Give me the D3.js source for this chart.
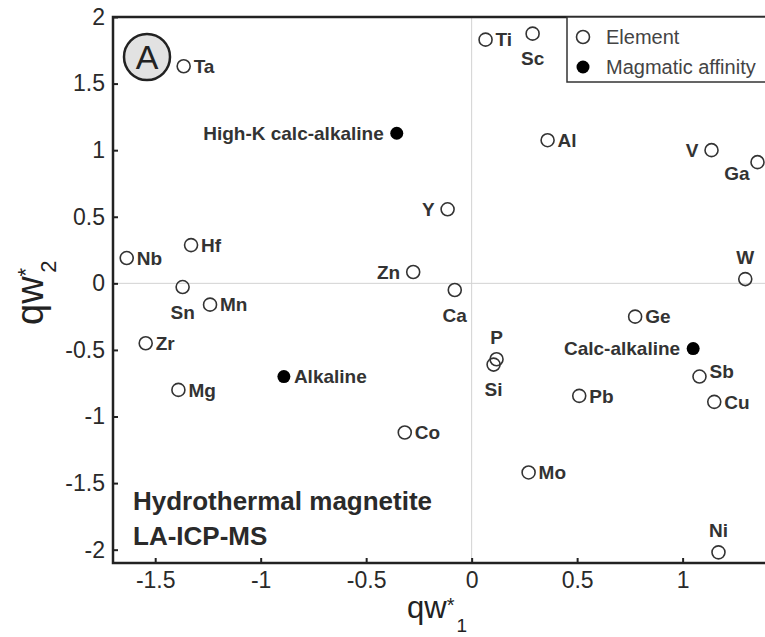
<!DOCTYPE html>
<html>
<head>
<meta charset="utf-8">
<script src="https://cdn.jsdelivr.net/npm/d3@7"></script>
<style>
  html, body { margin: 0; padding: 0; background: #fff; }
  svg { display: block; font-family: "Liberation Sans", Arial, sans-serif; }
</style>
</head>
<body>
<svg id="chart" width="765" height="637"></svg>
<script>
// Element loadings on the first two weighted components
const elements = ["Ta", "Ti", "Sc", "Al", "V", "Ga", "Y", "Hf", "Nb", "Zn", "W", "Sn", "Ca",
                  "Mn", "Ge", "Zr", "P", "Si", "Sb", "Mg", "Pb", "Cu", "Co", "Mo", "Ni"];
const elementQw1 = [-1.365, 0.066, 0.289, 0.36, 1.137, 1.355, -0.114, -1.33, -1.635, -0.277, 1.297, -1.37, -0.08,
                    -1.24, 0.775, -1.545, 0.118, 0.104, 1.08, -1.39, 0.51, 1.15, -0.317, 0.27, 1.17];
const elementQw2 = [1.63, 1.83, 1.875, 1.075, 1.0, 0.91, 0.556, 0.287, 0.19, 0.085, 0.032, -0.028, -0.05,
                    -0.16, -0.25, -0.45, -0.57, -0.61, -0.70, -0.80, -0.845, -0.89, -1.12, -1.42, -2.02];

// Magmatic affinity groups
const affinities = ["High-K calc-alkaline", "Calc-alkaline", "Alkaline"];
const affinityQw1 = [-0.355, 1.05, -0.89];
const affinityQw2 = [1.127, -0.49, -0.70];

// Axis ticks
const xTicks = [-1.5, -1, -0.5, 0, 0.5, 1];
const yTicks = [-2, -1.5, -1, -0.5, 0, 0.5, 1, 1.5, 2];

const legendLabels = ["Element", "Magmatic affinity"];
const panelLetter = "A";
const noteLines = ["Hydrothermal magnetite", "LA-ICP-MS"];

// where each label sits relative to its marker
const labelSide = {
  Ta: "r", Ti: "r", Sc: "b", Al: "r", V: "l", Ga: "bl", Y: "l", Hf: "r", Nb: "r", Zn: "l",
  W: "t", Sn: "b", Ca: "b", Mn: "r", Ge: "r", Zr: "r", P: "t", Si: "b", Sb: "ru", Mg: "r",
  Pb: "r", Cu: "r", Co: "r", Mo: "r", Ni: "t",
  "High-K calc-alkaline": "l", "Calc-alkaline": "l", "Alkaline": "r"
};

const svg = d3.select("#chart");
const plot = { left: 113, right: 767, top: 17, bottom: 563 };

const x = d3.scaleLinear().domain([-1.7, 1.4]).range([plot.left, plot.right]);
const y = d3.scaleLinear().domain([-2.1, 2]).range([plot.bottom, plot.top]);

const ink = "#222";

// zero reference lines
svg.append("line")
  .attr("x1", x(0)).attr("x2", x(0)).attr("y1", plot.top).attr("y2", plot.bottom)
  .attr("stroke", "#d2d2d2").attr("stroke-width", 1);
svg.append("line")
  .attr("x1", plot.left).attr("x2", plot.right).attr("y1", y(0)).attr("y2", y(0))
  .attr("stroke", "#d2d2d2").attr("stroke-width", 1);

// axes with inward ticks
const fmt = d => String(d);
const xAxis = svg.append("g")
  .attr("transform", `translate(0,${plot.bottom})`)
  .call(d3.axisBottom(x).tickValues(xTicks).tickFormat(fmt).tickSizeInner(-5).tickSizeOuter(0).tickPadding(9));
const yAxis = svg.append("g")
  .attr("transform", `translate(${plot.left},0)`)
  .call(d3.axisLeft(y).tickValues(yTicks).tickFormat(fmt).tickSizeInner(-5).tickSizeOuter(0).tickPadding(8));
[xAxis, yAxis].forEach(g => {
  g.select(".domain").remove();
  g.selectAll(".tick line").attr("stroke", ink).attr("stroke-width", 2);
  g.selectAll(".tick text").attr("fill", "#2a2a2a").attr("font-size", 23)
    .attr("font-family", "Liberation Sans, Arial, sans-serif");
});

// plot frame
svg.append("rect")
  .attr("x", plot.left).attr("y", plot.top)
  .attr("width", plot.right - plot.left).attr("height", plot.bottom - plot.top)
  .attr("fill", "none").attr("stroke", ink).attr("stroke-width", 2.5);

// label placement helper
function place(sel, side, px, py) {
  const o = {
    r:  [10, 0, "start"], ru: [10, -5, "start"], l: [-13, 0, "end"],
    b:  [0, 25, "middle"], t: [0, -22, "middle"], bl: [-8, 11, "end"]
  }[side];
  sel.attr("x", px + o[0]).attr("y", py + o[1]).attr("dy", "0.36em").attr("text-anchor", o[2]);
}

const r = 6.5;
const labelSize = 19;

// element markers
const elData = elements.map((name, i) => ({ name, a: elementQw1[i], b: elementQw2[i] }));
const elG = svg.append("g");
elG.selectAll("circle").data(elData).join("circle")
  .attr("cx", d => x(d.a)).attr("cy", d => y(d.b)).attr("r", r)
  .attr("fill", "none").attr("stroke", "#333").attr("stroke-width", 1.6);
elG.selectAll("text").data(elData).join("text")
  .text(d => d.name)
  .attr("font-size", labelSize).attr("font-weight", "bold").attr("fill", "#333")
  .each(function (d) { place(d3.select(this), labelSide[d.name], x(d.a), y(d.b)); });

// affinity markers
const afData = affinities.map((name, i) => ({ name, a: affinityQw1[i], b: affinityQw2[i] }));
const afG = svg.append("g");
afG.selectAll("circle").data(afData).join("circle")
  .attr("cx", d => x(d.a)).attr("cy", d => y(d.b)).attr("r", r)
  .attr("fill", "#000");
afG.selectAll("text").data(afData).join("text")
  .text(d => d.name)
  .attr("font-size", labelSize).attr("font-weight", "bold").attr("fill", "#333")
  .each(function (d) { place(d3.select(this), labelSide[d.name], x(d.a), y(d.b)); });

// legend
const lg = svg.append("g");
lg.append("rect").attr("x", 567).attr("y", plot.top).attr("width", 210).attr("height", 65)
  .attr("fill", "#fff").attr("stroke", "#333").attr("stroke-width", 1.5);
lg.append("circle").attr("cx", 583).attr("cy", 37).attr("r", r)
  .attr("fill", "none").attr("stroke", "#333").attr("stroke-width", 1.6);
lg.append("circle").attr("cx", 583).attr("cy", 67).attr("r", r).attr("fill", "#000");
legendLabels.forEach((t, i) => {
  lg.append("text").attr("x", 606).attr("y", 37 + i * 30).attr("dy", "0.36em")
    .attr("font-size", 20).attr("fill", "#444").text(t);
});

// panel letter
svg.append("circle").attr("cx", 147).attr("cy", 57).attr("r", 23)
  .attr("fill", "#e2e2e2").attr("stroke", ink).attr("stroke-width", 2.5);
svg.append("text").attr("x", 147).attr("y", 57).attr("dy", "0.36em")
  .attr("text-anchor", "middle").attr("font-size", 34).attr("fill", ink).text(panelLetter);

// note in lower-left corner
noteLines.forEach((t, i) => {
  svg.append("text").attr("x", 133).attr("y", 510 + i * 35)
    .attr("font-size", 26).attr("font-weight", "bold").attr("fill", "#2a2a2a").text(t);
});

// axis titles
const xt = svg.append("text").attr("x", 407).attr("y", 618).attr("font-size", 31).attr("fill", ink);
xt.append("tspan").text("qw");
xt.append("tspan").attr("font-size", 20).attr("dy", -6).text("*");
xt.append("tspan").attr("font-size", 19).attr("dx", 2).attr("dy", 20).text("1");

const yt = svg.append("text").attr("transform", "translate(43,325) rotate(-90)")
  .attr("font-size", 38).attr("fill", ink);
yt.append("tspan").text("qw");
yt.append("tspan").attr("font-size", 22).attr("dy", -10).text("*");
yt.append("tspan").attr("font-size", 22).attr("dx", -5).attr("dy", 23).text("2");
</script>
</body>
</html>
